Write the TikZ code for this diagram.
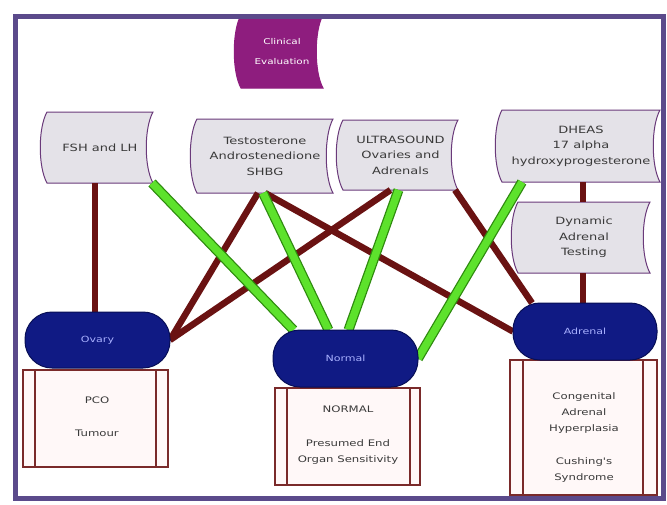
\documentclass[tikz,border=0pt]{standalone}
\usepackage{fontspec}
\setmainfont{DejaVu Sans}
\newfontfamily\widefont[FakeStretch=1.3]{DejaVu Sans}
\usetikzlibrary{calc}
\pgfdeclarelayer{base}
\pgfdeclarelayer{bg}
\pgfdeclarelayer{conn}
\pgfsetlayers{base,bg,conn,main}
\definecolor{framepurple}{HTML}{5B4A8B}
\definecolor{clinpurple}{HTML}{8E1D7E}
\definecolor{tapefill}{HTML}{E4E2E8}
\definecolor{tapeedge}{HTML}{6A3A7A}
\definecolor{txtgray}{HTML}{3A3A3A}
\definecolor{navy}{HTML}{101A84}
\definecolor{navyedge}{HTML}{070E55}
\definecolor{lavtext}{HTML}{A8B0FF}
\definecolor{boxedge}{HTML}{7A2A2A}
\definecolor{boxfill}{HTML}{FFF8F8}
\definecolor{redline}{HTML}{6A1212}
\definecolor{glight}{HTML}{5DE22C}
\definecolor{gdark}{HTML}{2E8A0E}
\newcommand\tapefont{\widefont\fontsize{10}{15.5}\selectfont}
\newcommand\boxfont{\widefont\fontsize{9}{16}\selectfont}
\newcommand\tapepath[2]{%
  \begin{pgfonlayer}{bg}
  \draw[#2] (#1.north west) -- (#1.north east)
     .. controls +(-9,16) and +(-9,-16) .. (#1.south east)
     -- (#1.south west)
     .. controls +(-9,-16) and +(-9,16) .. (#1.north west) -- cycle;
  \end{pgfonlayer}}
\begin{document}
\begin{tikzpicture}[x=1pt,y=-1pt,
  tapetext/.style={rectangle, inner sep=0pt, outer sep=0pt, align=center, text=txtgray, font=\tapefont},
  tapeline/.style={draw=tapeedge, fill=tapefill, line width=1pt},
  clinline/.style={draw=clinpurple, fill=clinpurple, line width=1pt},
  term/.style={rectangle, rounded corners=27pt, draw=navyedge, fill=navy, line width=1pt, inner sep=0pt, outer sep=0pt, text=lavtext, font=\widefont\fontsize{8.5}{10}\selectfont},
  procbox/.style={rectangle, draw=boxedge, fill=boxfill, line width=1.2pt, inner sep=0pt, outer sep=0pt},
  boxtext/.style={align=center, text=txtgray, font=\boxfont, inner sep=0pt},
  rline/.style={draw=redline, line width=6.5pt},
  gline/.style={draw=gdark, line width=10pt, postaction={draw=glight, line width=7.5pt}}
]
\useasboundingbox (0,0) rectangle (667,504);
\begin{pgfonlayer}{base}
\fill[white] (0,0) rectangle (667,504);
\end{pgfonlayer}

% Clinical evaluation
\node[tapetext, text=white, font=\widefont\fontsize{8}{20}\selectfont, minimum width=82pt, minimum height=73pt] (clin) at (282,51.5) {Clinical\\Evaluation};
\tapepath{clin}{clinline}

% tape nodes
\node[tapetext, minimum width=106pt, minimum height=71pt] (fsh) at (100,147.5) {FSH and LH};
\tapepath{fsh}{tapeline}
\node[tapetext, minimum width=136pt, minimum height=74pt] (test) at (265,156) {Testosterone\\Androstenedione\\SHBG};
\tapepath{test}{tapeline}
\node[tapetext, minimum width=115pt, minimum height=70pt] (us) at (400.5,155) {ULTRASOUND\\Ovaries and\\Adrenals};
\tapepath{us}{tapeline}
\node[tapetext, minimum width=158pt, minimum height=72pt] (dheas) at (581,146) {DHEAS\\17 alpha\\hydroxyprogesterone};
\tapepath{dheas}{tapeline}
\node[tapetext, minimum width=132pt, minimum height=71pt] (dyn) at (584,237.5) {Dynamic\\Adrenal\\Testing};
\tapepath{dyn}{tapeline}

% bottom process boxes
\node[procbox, minimum width=145pt, minimum height=97pt] (pco) at (95.5,418.5) {};
\draw[boxedge, line width=1.2pt] ([xshift=12pt]pco.north west) -- ([xshift=12pt]pco.south west)
  ([xshift=-12pt]pco.north east) -- ([xshift=-12pt]pco.south east);
\node[boxtext] (pcotext) at (97,416.5) {PCO\\[17pt]Tumour};

\node[procbox, minimum width=145pt, minimum height=97pt] (normbox) at (347.5,436.5) {};
\draw[boxedge, line width=1.2pt] ([xshift=12pt]normbox.north west) -- ([xshift=12pt]normbox.south west)
  ([xshift=-10pt]normbox.north east) -- ([xshift=-10pt]normbox.south east);
\node[boxtext] (normtext) at (348,435) {NORMAL\\[18pt]Presumed End\\Organ Sensitivity};

\node[procbox, minimum width=147pt, minimum height=135pt] (cah) at (583.5,427.5) {};
\draw[boxedge, line width=1.2pt] ([xshift=13pt]cah.north west) -- ([xshift=13pt]cah.south west)
  ([xshift=-14pt]cah.north east) -- ([xshift=-14pt]cah.south east);
\node[boxtext] (cahtext) at (584,437.5) {Congenital\\Adrenal\\Hyperplasia\\[17pt]Cushing's\\Syndrome};

% terminals
\node[term, minimum width=145pt, minimum height=56pt] (ovary) at (97.5,340) {Ovary};
\node[term, minimum width=145pt, minimum height=57pt] (normal) at (345.5,358.5) {Normal};
\node[term, minimum width=144pt, minimum height=57pt] (adrenal) at (585,331.5) {Adrenal};

% connectors
\begin{pgfonlayer}{conn}
\draw[rline] ([xshift=-5pt]fsh.south) -- ([xshift=-2.5pt]ovary.north);
\draw[rline] ([xshift=-7pt]test.south) -- (ovary.east);
\draw[rline] (test.south) -- (adrenal.west);
\draw[rline] ([xshift=-10pt]us.south) -- (ovary.east);
\draw[rline] ([xshift=-3pt]us.south east) -- ([xshift=-53pt]adrenal.north);
\draw[rline] ([xshift=2pt]dheas.south) -- ([xshift=-1pt]dyn.north);
\draw[rline] ([xshift=-1pt]dyn.south) -- ([xshift=-2pt]adrenal.north);
\draw[gline] ([xshift=-1pt]fsh.south east) -- ([xshift=-52pt]normal.north);
\draw[gline] ([xshift=-2pt]test.south) -- ([xshift=-17pt]normal.north);
\draw[gline] ([xshift=-2pt]us.south) -- ([xshift=3pt]normal.north);
\draw[gline] ([xshift=20pt]dheas.south west) -- (normal.east);
\end{pgfonlayer}

% frame
\draw[framepurple, line width=5pt] (15,16) rectangle (663,498);
\end{tikzpicture}
\end{document}
